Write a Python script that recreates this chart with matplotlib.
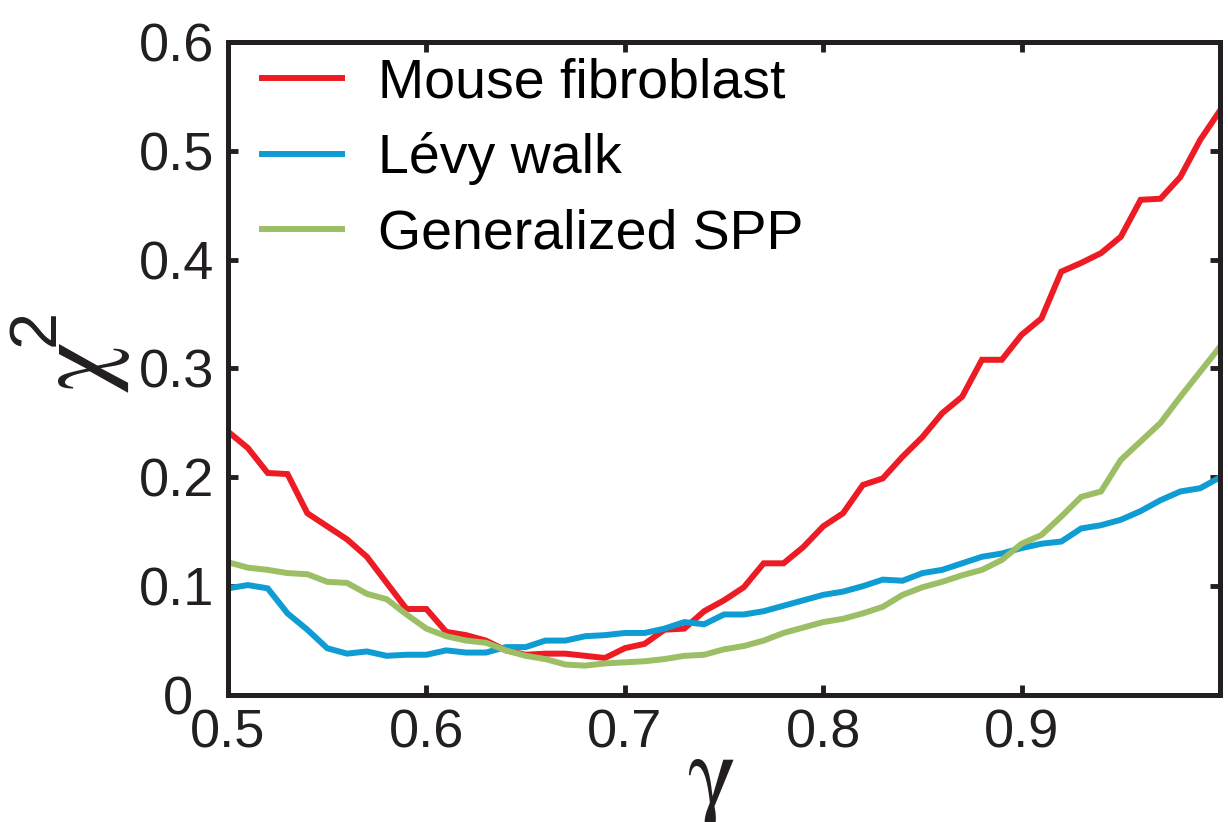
import numpy as np
import matplotlib
matplotlib.use('Agg')
import matplotlib.pyplot as plt

gamma = np.round(np.arange(0.50, 1.001, 0.01), 2)

mouse_fibroblast = [0.242, 0.227, 0.204, 0.203, 0.167, 0.155, 0.143, 0.127, 0.103, 0.079,
                    0.079, 0.058, 0.055, 0.050, 0.041, 0.037, 0.038, 0.038, 0.036, 0.034,
                    0.043, 0.047, 0.060, 0.061, 0.077, 0.087, 0.099, 0.121, 0.121, 0.136,
                    0.155, 0.167, 0.193, 0.199, 0.219, 0.237, 0.259, 0.274, 0.308, 0.308,
                    0.331, 0.346, 0.389, 0.397, 0.406, 0.421, 0.455, 0.456, 0.476, 0.510,
                    0.537]
levy_walk = [0.098, 0.101, 0.098, 0.075, 0.060, 0.043, 0.038, 0.040, 0.036, 0.037,
             0.037, 0.041, 0.039, 0.039, 0.044, 0.044, 0.050, 0.050, 0.054, 0.055,
             0.057, 0.057, 0.061, 0.067, 0.065, 0.074, 0.074, 0.077, 0.082, 0.087,
             0.092, 0.095, 0.100, 0.106, 0.105, 0.112, 0.115, 0.121, 0.127, 0.130,
             0.135, 0.139, 0.141, 0.153, 0.156, 0.161, 0.169, 0.179, 0.187, 0.190,
             0.200]
generalized_spp = [0.122, 0.117, 0.115, 0.112, 0.111, 0.104, 0.103, 0.093, 0.088, 0.074,
                   0.061, 0.054, 0.050, 0.048, 0.041, 0.036, 0.033, 0.028, 0.027, 0.029,
                   0.030, 0.031, 0.033, 0.036, 0.037, 0.042, 0.045, 0.050, 0.057, 0.062,
                   0.067, 0.070, 0.075, 0.081, 0.092, 0.099, 0.104, 0.110, 0.115, 0.124,
                   0.139, 0.147, 0.164, 0.182, 0.187, 0.216, 0.233, 0.250, 0.274, 0.297,
                   0.320]

labels = ['Mouse fibroblast', 'Lévy walk', 'Generalized SPP']
colors = ['#ED1C24', '#0E9CD3', '#9CBF66']

plt.rcParams['font.family'] = ['Liberation Sans', 'DejaVu Sans']

fig = plt.figure(figsize=(12.28, 8.22), dpi=100)
ax = fig.add_axes([228 / 1228, 127 / 822, 992 / 1228, 653 / 822])

for vals, lab, col in zip([mouse_fibroblast, levy_walk, generalized_spp], labels, colors):
    ax.plot(gamma, vals, color=col, lw=4.3, label=lab, solid_joinstyle='miter')

ax.set_xlim(0.5, 1.0)
ax.set_ylim(0, 0.6)
ax.set_xticks([0.5, 0.6, 0.7, 0.8, 0.9])
ax.set_xticklabels(['0.5', '0.6', '0.7', '0.8', '0.9'])
ax.set_yticks([0, 0.1, 0.2, 0.3, 0.4, 0.5, 0.6])
ax.set_yticklabels(['', '0.1', '0.2', '0.3', '0.4', '0.5', '0.6'])
ax.tick_params(direction='in', length=7, width=3.5, labelsize=39,
               top=True, right=True, colors='#231F20')
ax.tick_params(axis='x', pad=10)
ax.tick_params(axis='y', pad=10)
for s in ax.spines.values():
    s.set_linewidth(3.6)
    s.set_color('#231F20')

# the "0" sits apart from the other y labels
ax.text(-0.035, -0.005, '0', transform=ax.get_yaxis_transform(), ha='right', va='center',
        fontsize=39, color='#231F20')

leg = ax.legend(loc='upper left', bbox_to_anchor=(0.023, 0.993), frameon=False,
                fontsize=40, handlelength=1.44, handletextpad=0.65, labelspacing=0.41,
                borderaxespad=0, borderpad=0.2)

fig.text(711 / 1228, 1 - 782 / 822, r'$\mathrm{\gamma}$', math_fontfamily='stix',
         fontsize=74, ha='center', va='center', color='#231F20')
fig.text(84 / 1228, 1 - 368 / 822, r'$\mathrm{\chi}$', math_fontfamily='stix',
         fontsize=74, rotation=90, ha='center', va='center', color='#231F20')
fig.text(37 / 1228, 1 - 327 / 822, '2', fontsize=48,
         rotation=90, ha='center', va='center', color='#231F20')

fig.savefig('out.png', dpi=100)
